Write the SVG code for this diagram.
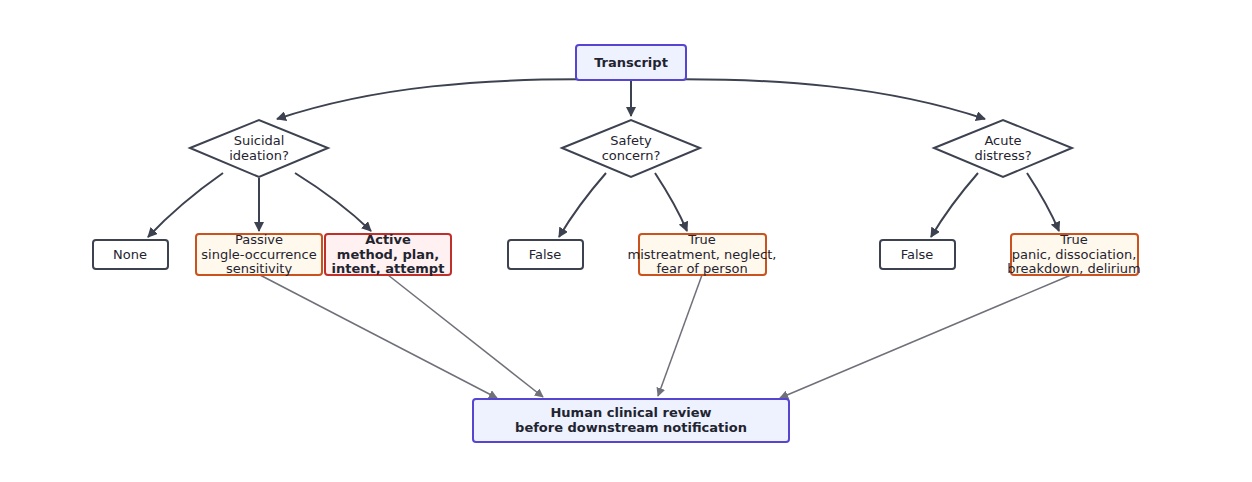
<svg xmlns="http://www.w3.org/2000/svg" width="1252" height="482" viewBox="0 0 1252 482">
<style>
text{font-family:"DejaVu Sans",sans-serif;font-size:13px;fill:#1f2430;text-anchor:middle}
.b{font-weight:bold}
.n{fill:#fff;stroke:#3d4250;stroke-width:2}
.blue{fill:#eef2fe;stroke:#5645d0;stroke-width:2}
.or{fill:#fff8ec;stroke:#c9521e;stroke-width:2}
.red{fill:#fff1f1;stroke:#c0302b;stroke-width:2}
.e{fill:none;stroke:#3d4250;stroke-width:2;marker-end:url(#a)}
.g{fill:none;stroke:#6f7079;stroke-width:1.5;marker-end:url(#ag)}
</style>
<defs>
<marker id="a" viewBox="0 0 10 10" refX="9" refY="5" markerWidth="5" markerHeight="5" orient="auto"><path d="M0,0L10,5L0,10z" fill="#3d4250"/></marker>
<marker id="ag" viewBox="0 0 10 10" refX="9" refY="5" markerWidth="6" markerHeight="6" orient="auto"><path d="M0,0L10,5L0,10z" fill="#6f7079"/></marker>
</defs>
<g id="connectors">
<path class="e" d="M631,80 C480,76 370,88 277,119"/>
<path class="e" d="M631,80 C782,76 892,88 985,119"/>
<path class="e" d="M631,80 L631,116"/>
<path class="e" d="M223,173 Q180,203 148,237"/>
<path class="e" d="M259,178 L259,231"/>
<path class="e" d="M295,173 Q340,201 371,231"/>
<path class="e" d="M606,173 Q578,205 559,237"/>
<path class="e" d="M655,173 Q676,205 687,231"/>
<path class="e" d="M978,173 Q950,205 931,237"/>
<path class="e" d="M1027,173 Q1048,205 1059,231"/>
<path class="g" d="M260,275 L497,398"/>
<path class="g" d="M388,275 L543,397"/>
<path class="g" d="M702,275 L658,396"/>
<path class="g" d="M1071,275 L780,398"/>
</g>
<g id="transcript"><rect class="blue" x="576" y="45" width="110" height="35" rx="3"/><text class="b" x="631" y="67">Transcript</text></g>
<g id="d1"><polygon class="n" points="190,148 259,120 328,148 259,177"/><text x="259" y="145">Suicidal</text><text x="259" y="160">ideation?</text></g>
<g id="d2"><polygon class="n" points="562,148 631,120 700,148 631,177"/><text x="631" y="145">Safety</text><text x="631" y="160">concern?</text></g>
<g id="d3"><polygon class="n" points="934,148 1003,120 1072,148 1003,177"/><text x="1003" y="145">Acute</text><text x="1003" y="160">distress?</text></g>
<g id="none"><rect class="n" x="93" y="240" width="75" height="29" rx="3"/><text x="130" y="259">None</text></g>
<g id="passive"><rect class="or" x="196" y="234" width="126" height="41" rx="3"/><text x="259" y="244">Passive</text><text x="259" y="259">single-occurrence</text><text x="259" y="273">sensitivity</text></g>
<g id="active"><rect class="red" x="325" y="234" width="126" height="41" rx="3"/><text class="b" x="388" y="244">Active</text><text class="b" x="388" y="259">method, plan,</text><text class="b" x="388" y="273">intent, attempt</text></g>
<g id="false1"><rect class="n" x="508" y="240" width="75" height="29" rx="3"/><text x="545" y="259">False</text></g>
<g id="true1"><rect class="or" x="639" y="234" width="127" height="41" rx="3"/><text x="702" y="244">True</text><text x="702" y="259">mistreatment, neglect,</text><text x="702" y="273">fear of person</text></g>
<g id="false2"><rect class="n" x="880" y="240" width="75" height="29" rx="3"/><text x="917" y="259">False</text></g>
<g id="true2"><rect class="or" x="1011" y="234" width="127" height="41" rx="3"/><text x="1074" y="244">True</text><text x="1074" y="259">panic, dissociation,</text><text x="1074" y="273">breakdown, delirium</text></g>
<g id="review"><rect class="blue" x="473" y="399" width="316" height="43" rx="3"/><text class="b" x="631" y="417">Human clinical review</text><text class="b" x="631" y="432">before downstream notification</text></g>
</svg>
